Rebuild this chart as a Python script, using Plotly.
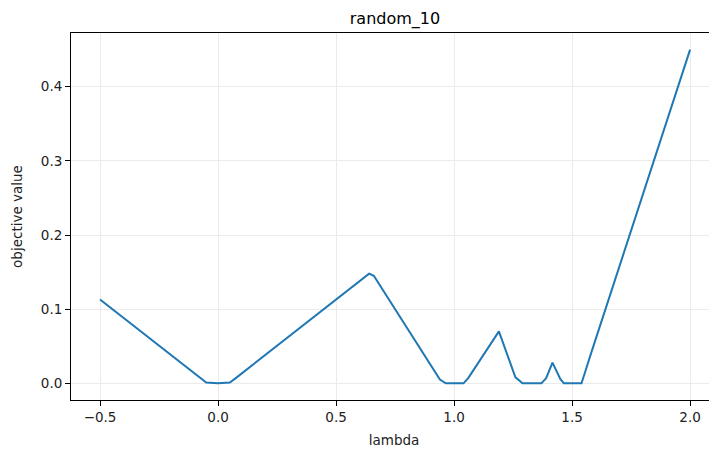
import plotly.graph_objects as go

lam = [-0.5, -0.075, -0.05, 0.0, 0.05, 0.075, 0.64, 0.66, 0.94, 0.965, 1.0, 1.04, 1.06,
       1.19, 1.26, 1.29, 1.33, 1.37, 1.39, 1.417, 1.45, 1.465, 1.5, 1.54, 1.56, 1.58, 2.0]
obj = [0.113, 0.007, 0.001, 0.0, 0.001, 0.007, 0.148, 0.145, 0.005, 0.0, 0.0, 0.0, 0.007,
       0.070, 0.008, 0.0, 0.0, 0.0, 0.007, 0.028, 0.006, 0.0, 0.0, 0.0, 0.02, 0.04, 0.45]

xticks = [-0.5, 0.0, 0.5, 1.0, 1.5, 2.0]
yticks = [0.0, 0.1, 0.2, 0.3, 0.4]

fig = go.Figure(go.Scatter(x=lam, y=obj, mode="lines",
                           line=dict(color="#1f77b4", width=2)))

font = "DejaVu Sans, sans-serif"
axis_common = dict(showline=True, linecolor="black", linewidth=1,
                   ticks="outside", ticklen=5, tickwidth=1, tickcolor="black",
                   showgrid=True, gridcolor="#ebebeb", gridwidth=1, zeroline=False,
                   tickfont=dict(family=font, size=13.5, color="#222"))

# page body has an 8px default margin; compensate so the plot lands where the reference has it
W, H = 709, 442
fig.update_layout(
    width=W, height=H,
    margin=dict(l=63, r=0, t=25, b=50),
    plot_bgcolor="white", paper_bgcolor="white",
    showlegend=False,
    title=dict(text="random_10", x=387 / W, xanchor="center",
               y=1 - 10 / H, yanchor="middle",
               font=dict(family=font, size=16, color="black")),
    xaxis=dict(range=[-0.623, 2.114], tickvals=xticks,
               ticktext=["\u22120.5", "0.0", "0.5", "1.0", "1.5", "2.0"],
               mirror=True,
               title=dict(text="lambda", font=dict(family=font, size=13.5, color="#222"), standoff=11),
               **axis_common),
    yaxis=dict(range=[-0.0225, 0.4725], tickvals=yticks,
               ticktext=["0.0", "0.1", "0.2", "0.3", "0.4"],
               title=dict(text="objective value", font=dict(family=font, size=13.5, color="#222"), standoff=15),
               **axis_common),
)

fig.write_html("out.html")
